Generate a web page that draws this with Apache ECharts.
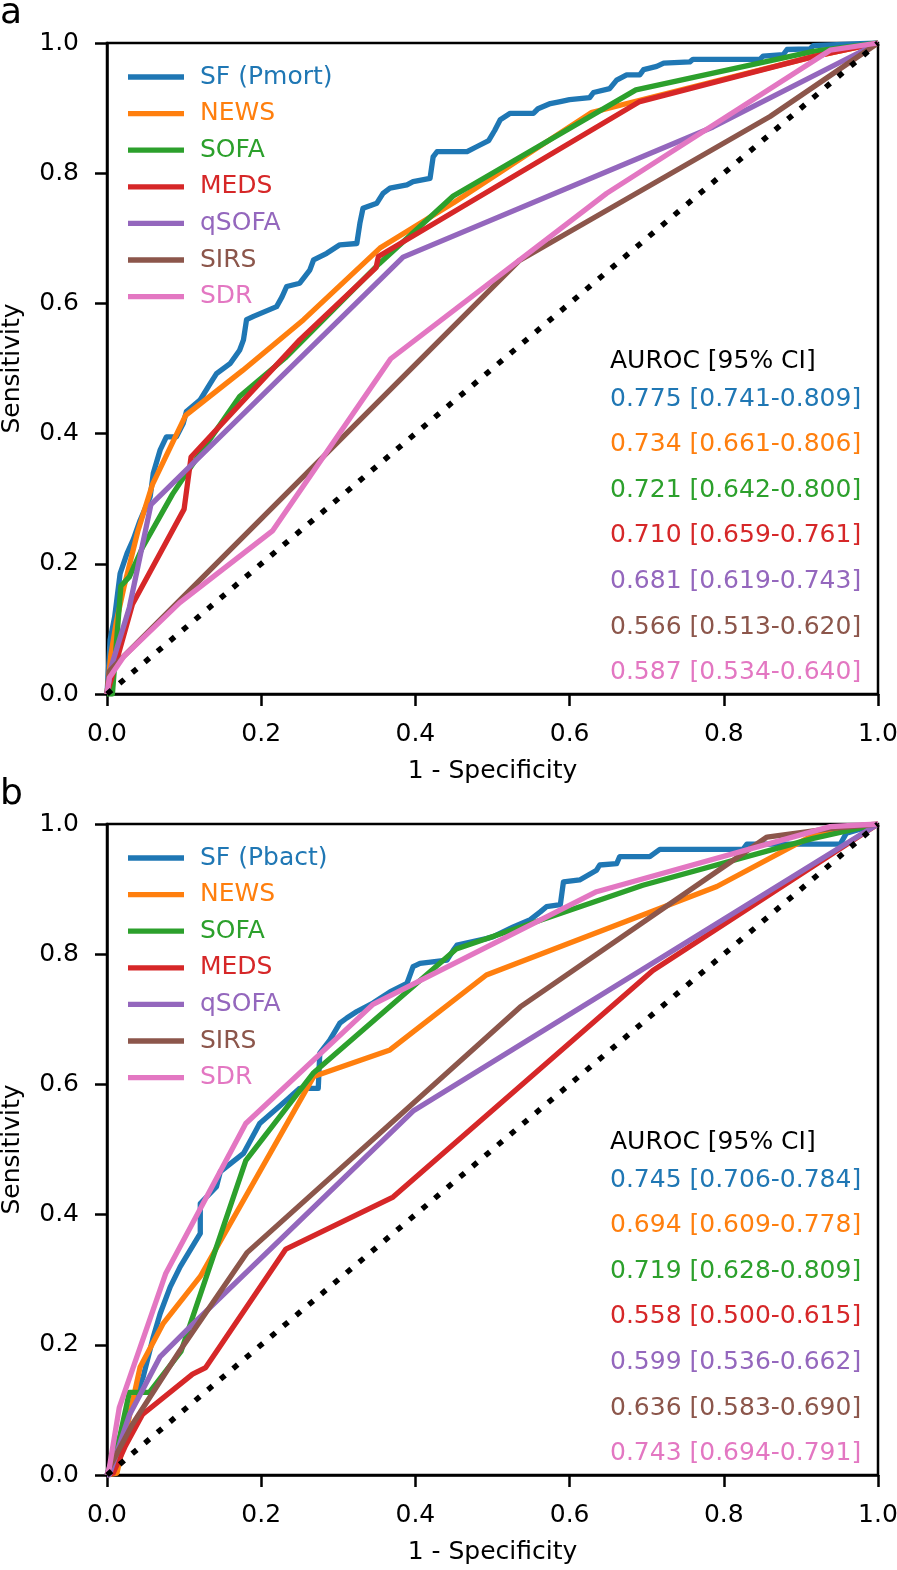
<!DOCTYPE html>
<html>
<head>
<meta charset="utf-8">
<script src="https://cdn.jsdelivr.net/npm/echarts@6/dist/echarts.min.js"></script>
<style>
html,body{margin:0;padding:0;background:#fff;}
#c{width:897px;height:1570px;}
</style>
</head>
<body>
<div id="c"></div>
<script>
// ---------- data ----------
const xTicks = [0, 0.2, 0.4, 0.6, 0.8, 1.0];
const yTicks = [0, 0.2, 0.4, 0.6, 0.8, 1.0];
const namesA = ['SF (Pmort)', 'NEWS', 'SOFA', 'MEDS', 'qSOFA', 'SIRS', 'SDR'];
const namesB = ['SF (Pbact)', 'NEWS', 'SOFA', 'MEDS', 'qSOFA', 'SIRS', 'SDR'];
const colors = ['#1f77b4', '#ff7f0e', '#2ca02c', '#d62728', '#9467bd', '#8c564b', '#e377c2'];
const aurocHeader = 'AUROC [95% CI]';
const aurocA = ['0.775 [0.741-0.809]', '0.734 [0.661-0.806]', '0.721 [0.642-0.800]', '0.710 [0.659-0.761]', '0.681 [0.619-0.743]', '0.566 [0.513-0.620]', '0.587 [0.534-0.640]'];
const aurocB = ['0.745 [0.706-0.784]', '0.694 [0.609-0.778]', '0.719 [0.628-0.809]', '0.558 [0.500-0.615]', '0.599 [0.536-0.662]', '0.636 [0.583-0.690]', '0.743 [0.694-0.791]'];
const refLine = [[0, 0], [1, 1]];

// panel a
const sfA = [[0,0],[0.002,0.04],[0.004,0.083],[0.010,0.119],[0.017,0.185],[0.026,0.216],[0.034,0.237],[0.043,0.267],[0.056,0.303],[0.060,0.339],[0.069,0.375],[0.077,0.395],[0.090,0.395],[0.099,0.416],[0.103,0.434],[0.121,0.452],[0.134,0.477],[0.142,0.492],[0.160,0.508],[0.172,0.528],[0.177,0.544],[0.181,0.575],[0.190,0.580],[0.220,0.595],[0.227,0.610],[0.233,0.626],[0.250,0.631],[0.263,0.651],[0.268,0.667],[0.285,0.677],[0.302,0.690],[0.324,0.692],[0.328,0.723],[0.332,0.746],[0.350,0.754],[0.358,0.769],[0.367,0.777],[0.389,0.782],[0.397,0.787],[0.419,0.792],[0.423,0.825],[0.428,0.833],[0.467,0.833],[0.480,0.841],[0.495,0.850],[0.503,0.866],[0.510,0.882],[0.523,0.892],[0.553,0.892],[0.559,0.899],[0.575,0.907],[0.588,0.910],[0.600,0.913],[0.626,0.916],[0.631,0.924],[0.652,0.930],[0.661,0.943],[0.674,0.951],[0.691,0.951],[0.696,0.959],[0.713,0.964],[0.722,0.969],[0.756,0.971],[0.760,0.975],[0.847,0.975],[0.851,0.980],[0.877,0.982],[0.882,0.990],[0.912,0.991],[0.916,0.996],[1,1]];
const newsA = [[0,0],[0.005,0.06],[0.012,0.11],[0.022,0.164],[0.040,0.250],[0.059,0.322],[0.102,0.428],[0.176,0.497],[0.255,0.575],[0.354,0.685],[0.450,0.755],[0.628,0.893],[0.691,0.912],[0.916,0.979],[1,1]];
const sofaA = [[0,0],[0.007,0],[0.018,0.166],[0.029,0.180],[0.046,0.225],[0.085,0.307],[0.103,0.339],[0.172,0.457],[0.231,0.516],[0.353,0.661],[0.449,0.765],[0.686,0.928],[0.916,0.987],[1,1]];
const medsA = [[0,0],[0.011,0.045],[0.033,0.138],[0.100,0.284],[0.109,0.364],[0.250,0.544],[0.349,0.655],[0.352,0.672],[0.691,0.910],[0.916,0.979],[1,1]];
const qsofaA = [[0,0],[0.005,0.04],[0.029,0.133],[0.057,0.291],[0.384,0.671],[0.786,0.871],[1,1]];
const sirsA = [[0,0],[0.003,0.035],[0.020,0.056],[0.535,0.666],[0.860,0.887],[1,1]];
const sdrA = [[0,0],[0.003,0.025],[0.022,0.058],[0.094,0.140],[0.215,0.251],[0.368,0.515],[0.648,0.769],[0.938,0.989],[1,1]];

// panel b
const sfB = [[0,0],[0.008,0.03],[0.017,0.06],[0.030,0.10],[0.040,0.13],[0.047,0.151],[0.060,0.212],[0.069,0.248],[0.082,0.289],[0.095,0.320],[0.121,0.371],[0.121,0.417],[0.142,0.443],[0.147,0.466],[0.177,0.494],[0.198,0.540],[0.233,0.576],[0.250,0.594],[0.274,0.594],[0.276,0.648],[0.289,0.668],[0.302,0.694],[0.311,0.702],[0.324,0.712],[0.345,0.725],[0.367,0.742],[0.389,0.755],[0.397,0.781],[0.406,0.786],[0.441,0.791],[0.449,0.806],[0.454,0.814],[0.492,0.824],[0.501,0.827],[0.527,0.842],[0.549,0.853],[0.562,0.865],[0.570,0.873],[0.588,0.876],[0.592,0.911],[0.613,0.914],[0.635,0.929],[0.639,0.937],[0.661,0.939],[0.665,0.950],[0.704,0.950],[0.717,0.961],[0.825,0.961],[0.830,0.969],[0.951,0.969],[0.959,0.986],[1,1]];
const newsB = [[0,0],[0.013,0.003],[0.043,0.166],[0.073,0.233],[0.121,0.305],[0.268,0.612],[0.367,0.653],[0.492,0.768],[0.791,0.904],[0.916,0.983],[1,1]];
const sofaB = [[0,0],[0.007,0.006],[0.029,0.127],[0.055,0.127],[0.096,0.190],[0.180,0.483],[0.268,0.618],[0.453,0.808],[0.695,0.906],[0.916,0.978],[1,1]];
const medsB = [[0,0],[0.008,0.003],[0.024,0.045],[0.046,0.093],[0.111,0.155],[0.128,0.165],[0.232,0.347],[0.371,0.427],[0.708,0.775],[1,1]];
const qsofaB = [[0,0],[0.003,0.0],[0.029,0.092],[0.069,0.182],[0.108,0.228],[0.397,0.559],[1,1]];
const sirsB = [[0,0],[0.003,0.011],[0.033,0.078],[0.094,0.190],[0.182,0.342],[0.536,0.719],[0.856,0.980],[0.938,0.993],[1,1]];
const sdrB = [[0,0],[0.003,0.011],[0.016,0.104],[0.076,0.309],[0.180,0.540],[0.345,0.723],[0.635,0.896],[0.938,0.996],[1,1]];

const seriesA = [sfA, newsA, sofaA, medsA, qsofaA, sirsA, sdrA];
const seriesB = [sfB, newsB, sofaB, medsB, qsofaB, sirsB, sdrB];

// ---------- layout ----------
const FONT = 'DejaVu Sans';
const FS = 25;
const gridLeft = 107, gridW = 771, gridH = 651;
const gridTops = [43, 824];

const chart = echarts.init(document.getElementById('c'), null, {renderer: 'canvas'});

function xAxis(i) {
  return {
    type: 'value', gridIndex: i, min: xTicks[0], max: xTicks[xTicks.length - 1], interval: 0.2,
    name: '1 - Specificity', nameLocation: 'middle', nameGap: 65,
    nameTextStyle: {fontFamily: FONT, fontSize: FS, color: '#000'},
    axisLine: {show: true, onZero: false, lineStyle: {color: '#000', width: 2.5}},
    axisTick: {show: true, length: 12, inside: false, lineStyle: {color: '#000', width: 2.5}},
    axisLabel: {fontFamily: FONT, fontSize: FS, color: '#000', margin: 28, formatter: v => v.toFixed(1)},
    splitLine: {show: false}
  };
}
function yAxis(i) {
  return {
    type: 'value', gridIndex: i, min: yTicks[0], max: yTicks[yTicks.length - 1], interval: 0.2,
    name: 'Sensitivity', nameLocation: 'middle', nameGap: 82,
    nameTextStyle: {fontFamily: FONT, fontSize: FS, color: '#000'},
    axisLine: {show: true, onZero: false, lineStyle: {color: '#000', width: 2.5}},
    axisTick: {show: true, length: 12, inside: false, lineStyle: {color: '#000', width: 2.5}},
    axisLabel: {fontFamily: FONT, fontSize: FS, color: '#000', margin: 28, formatter: v => v.toFixed(1)},
    splitLine: {show: false}
  };
}
function legend(i, names) {
  return {
    orient: 'vertical', left: 128, top: gridTops[i] + 21, padding: 0,
    itemWidth: 56, itemHeight: 5.3, itemGap: 10.6, icon: 'rect',
    selectedMode: false,
    textStyle: {fontFamily: FONT, fontSize: FS, lineHeight: 26, padding: [0, 0, 0, 11]},
    data: names.map((n, k) => ({name: n, textStyle: {color: colors[k]}}))
  };
}
function lineSeries(i, names, datas) {
  const out = datas.map((d, k) => ({
    type: 'line', name: names[k], xAxisIndex: i, yAxisIndex: i, data: d,
    showSymbol: false, symbol: 'none', color: colors[k],
    lineStyle: {width: 5.3, color: colors[k], join: 'round', cap: 'butt'},
    emphasis: {disabled: true}, silent: true, z: 2 + k * 0.01
  }));
  out.push({
    type: 'line', name: 'ref', xAxisIndex: i, yAxisIndex: i, data: refLine,
    showSymbol: false, symbol: 'none',
    lineStyle: {width: 5.5, color: '#000', type: [6, 10.5], cap: 'butt'},
    emphasis: {disabled: true}, silent: true, z: 3
  });
  return out;
}
function aurocTexts(i, rows) {
  const top = gridTops[i];
  const els = [{
    type: 'text', x: 610, y: top + 318,
    style: {text: aurocHeader, fill: '#000', font: FS + 'px "' + FONT + '"', verticalAlign: 'middle', align: 'left'}
  }];
  rows.forEach((t, k) => els.push({
    type: 'text', x: 610, y: top + 356 + 45.6 * k,
    style: {text: t, fill: colors[k], font: FS + 'px "' + FONT + '"', verticalAlign: 'middle', align: 'left'}
  }));
  return els;
}

const graphics = [
  {type: 'text', x: 0, y: 14, style: {text: 'a', fill: '#000', font: '36px "' + FONT + '"', verticalAlign: 'middle', align: 'left'}},
  {type: 'text', x: 0, y: 795, style: {text: 'b', fill: '#000', font: '36px "' + FONT + '"', verticalAlign: 'middle', align: 'left'}}
].concat(aurocTexts(0, aurocA), aurocTexts(1, aurocB));

chart.setOption({
  animation: false,
  backgroundColor: '#fff',
  grid: gridTops.map(t => ({left: gridLeft, top: t, width: gridW, height: gridH, show: true, borderColor: '#000', borderWidth: 2.5, backgroundColor: 'transparent', containLabel: false, outerBoundsMode: 'none'})),
  xAxis: [xAxis(0), xAxis(1)],
  yAxis: [yAxis(0), yAxis(1)],
  legend: [legend(0, namesA), legend(1, namesB)],
  series: lineSeries(0, namesA, seriesA).concat(lineSeries(1, namesB, seriesB)),
  graphic: graphics
});
</script>
</body>
</html>
